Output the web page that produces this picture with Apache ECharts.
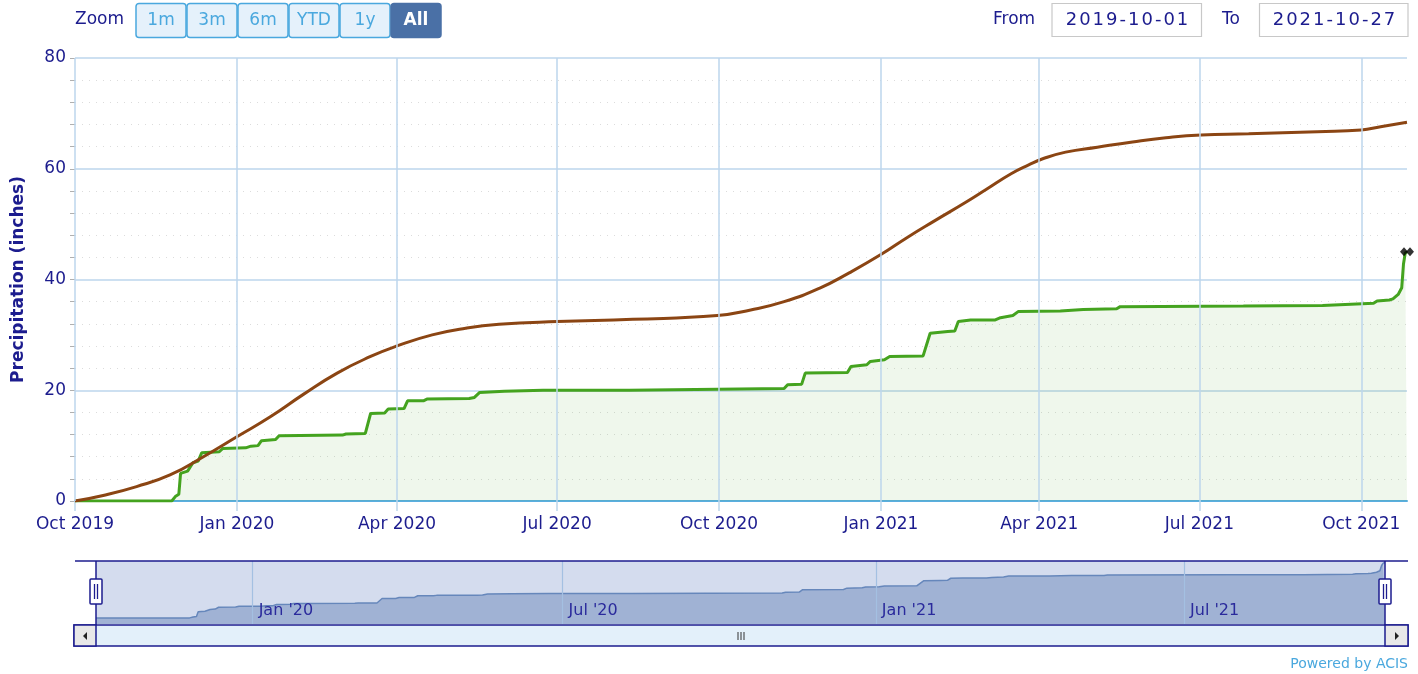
<!DOCTYPE html>
<html>
<head>
<meta charset="utf-8">
<script src="https://cdn.jsdelivr.net/npm/echarts@6/dist/echarts.min.js"></script>
<style>html,body{margin:0;padding:0;background:#fff}#c{width:1418px;height:674px}</style>
</head>
<body>
<div id="c"></div>
<script>
// ---- data ----
const startDate = '2019-10-01';
const endDate = '2021-10-27';
const xTickDates = ['2019-10-01','2020-01-01','2020-04-01','2020-07-01','2020-10-01','2021-01-01','2021-04-01','2021-07-01','2021-10-01'];
const navTickDates = ['2020-01-01','2020-07-01','2021-01-01','2021-07-01'];
const yTicks = [0, 20, 40, 60, 80];
const zoomButtons = ['1m','3m','6m','YTD','1y','All'];
const monthNames = ['Jan','Feb','Mar','Apr','May','Jun','Jul','Aug','Sep','Oct','Nov','Dec'];

// normal cumulative precipitation (brown)
const normalSeries = [
  ['2019-10-01',0.0],['2019-10-17',1.0],['2019-11-05',2.6],['2019-11-24',4.7],['2019-12-13',8.0],
  ['2020-01-01',11.6],['2020-01-20',15.2],['2020-02-08',19.3],['2020-02-27',23.1],['2020-03-17',26.1],
  ['2020-04-01',28.0],['2020-04-21',30.0],['2020-05-10',31.2],['2020-05-29',31.9],
  ['2020-07-01',32.4],['2020-08-13',32.8],['2020-09-30',33.5],['2020-10-19',34.5],['2020-11-07',36.0],
  ['2020-11-27',38.4],['2020-12-14',41.2],['2021-01-01',44.5],['2021-01-16',47.6],['2021-01-31',50.5],
  ['2021-02-18',53.9],['2021-03-02',56.3],['2021-03-16',59.1],['2021-03-26',60.7],['2021-04-03',61.8],
  ['2021-04-16',63.0],['2021-05-04',63.9],['2021-05-24',64.85],['2021-06-12',65.6],['2021-07-02',66.1],
  ['2021-07-29',66.3],['2021-09-06',66.7],['2021-10-01',67.0],['2021-10-12',67.6],['2021-10-27',68.4]
];

// observed cumulative precipitation (green)
const observedSeries = [
  ['2019-10-01',0.0],['2019-11-25',0.0],['2019-11-27',0.8],['2019-11-29',1.2],['2019-11-30',5.0],
  ['2019-12-04',5.4],['2019-12-07',6.9],['2019-12-10',7.2],['2019-12-12',8.7],['2019-12-22',8.9],
  ['2019-12-24',9.5],['2020-01-06',9.6],['2020-01-09',9.9],['2020-01-13',10.0],['2020-01-15',10.9],
  ['2020-01-23',11.1],['2020-01-25',11.8],['2020-03-01',11.9],['2020-03-03',12.1],['2020-03-14',12.2],
  ['2020-03-17',15.8],['2020-03-25',15.9],['2020-03-27',16.6],['2020-04-05',16.7],['2020-04-07',18.1],
  ['2020-04-16',18.1],['2020-04-18',18.4],['2020-05-12',18.5],['2020-05-15',18.7],['2020-05-18',19.6],
  ['2020-06-01',19.8],['2020-06-23',20.0],['2020-08-11',20.0],['2020-08-12',20.2],['2020-11-07',20.3],
  ['2020-11-09',21.0],['2020-11-17',21.1],['2020-11-19',23.1],['2020-12-13',23.2],['2020-12-15',24.3],
  ['2020-12-24',24.6],['2020-12-26',25.2],['2021-01-03',25.5],['2021-01-06',26.1],['2021-01-25',26.2],
  ['2021-01-29',30.3],['2021-02-08',30.6],['2021-02-12',30.7],['2021-02-14',32.4],['2021-02-21',32.7],
  ['2021-03-07',32.7],['2021-03-10',33.1],['2021-03-17',33.5],['2021-03-20',34.2],['2021-04-13',34.3],
  ['2021-04-14',34.45],['2021-04-26',34.6],['2021-05-15',34.7],['2021-05-17',35.1],['2021-07-26',35.2],
  ['2021-09-09',35.3],['2021-09-10',35.6],['2021-10-08',35.7],['2021-10-10',36.1],['2021-10-17',36.3],
  ['2021-10-19',36.5],['2021-10-22',37.3],['2021-10-24',38.5],['2021-10-25',42.8],['2021-10-26',44.8],
  ['2021-10-27',45.0]
];

// ---- helpers ----
function ts(s){ const p = s.split('-').map(Number); return new Date(p[0], p[1]-1, p[2]).getTime(); }
const toXY = arr => arr.map(([d, v]) => [ts(d), v]);
const NAVY = '#1c1c8e';
const GRID_BLUE = '#bcd6ec';
const FONT = 'DejaVu Sans';
const xTicks = xTickDates.map(ts);
const navTicks = navTickDates.map(ts);
const obsXY = toXY(observedSeries);
const normXY = toXY(normalSeries);
const lastObs = obsXY[obsXY.length - 1];

const measureCtx = document.createElement('canvas').getContext('2d');
function spacedText(str, cx, cy, font, color, spacing) {
  measureCtx.font = font;
  const widths = str.split('').map(ch => measureCtx.measureText(ch).width);
  const total = widths.reduce((a, b) => a + b, 0) + spacing * (str.length - 1);
  let x = cx - total / 2;
  const out = [];
  str.split('').forEach((ch, i) => {
    out.push({type:'text', x:x, y:cy, style:{text:ch, fill:color, font:font, textVerticalAlign:'middle'}, z:12});
    x += widths[i] + spacing;
  });
  return out;
}

// ---- UI chrome (graphic) ----
const graphics = [];
graphics.push({type:'text', x:75, y:20, style:{text:'Zoom', fill:NAVY, font:'17px "DejaVu Sans"', textVerticalAlign:'middle'}});
zoomButtons.forEach((b, i) => {
  const sel = b === 'All';
  const x = 136 + i * 51;
  graphics.push({type:'rect', shape:{x:x, y:3.5, width:50, height:34, r:3},
    style:{fill: sel ? '#4a70a6' : '#e5f1fb', stroke: sel ? '#4a70a6' : '#4aa8de', lineWidth:1.5}, z:10});
  graphics.push({type:'text', x:x+25, y:20.5, style:{text:b, fill: sel ? '#ffffff' : '#4aa8de',
    font:(sel ? 'bold ' : '') + '17px "DejaVu Sans"', textAlign:'center', textVerticalAlign:'middle'}, z:11});
});
graphics.push({type:'text', x:993, y:20, style:{text:'From', fill:NAVY, font:'17px "DejaVu Sans"', textVerticalAlign:'middle'}});
graphics.push({type:'rect', shape:{x:1052, y:3.5, width:149.5, height:33}, style:{fill:'#fff', stroke:'#c8c8c8', lineWidth:1.2}});
graphics.push(...spacedText(startDate, 1127, 20, '18px "DejaVu Sans"', NAVY, 2));
graphics.push({type:'text', x:1222, y:20, style:{text:'To', fill:NAVY, font:'17px "DejaVu Sans"', textVerticalAlign:'middle'}});
graphics.push({type:'rect', shape:{x:1259.5, y:3.5, width:148.5, height:33}, style:{fill:'#fff', stroke:'#c8c8c8', lineWidth:1.2}});
graphics.push(...spacedText(endDate, 1334, 20, '18px "DejaVu Sans"', NAVY, 2));

// navigator outline
graphics.push({type:'line', shape:{x1:75, y1:561, x2:1408, y2:561}, style:{stroke:NAVY, lineWidth:1.5}, z:20});
graphics.push({type:'line', shape:{x1:96, y1:561, x2:96, y2:625}, style:{stroke:NAVY, lineWidth:1.5}, z:20});
graphics.push({type:'line', shape:{x1:1385, y1:561, x2:1385, y2:625}, style:{stroke:NAVY, lineWidth:1.5}, z:20});
[90, 1379].forEach(hx => {
  graphics.push({type:'rect', shape:{x:hx, y:579, width:12, height:25, r:1}, style:{fill:'#fff', stroke:NAVY, lineWidth:1.5}, z:21});
  graphics.push({type:'line', shape:{x1:hx+4.5, y1:584, x2:hx+4.5, y2:599}, style:{stroke:NAVY, lineWidth:1.3}, z:22});
  graphics.push({type:'line', shape:{x1:hx+7.5, y1:584, x2:hx+7.5, y2:599}, style:{stroke:NAVY, lineWidth:1.3}, z:22});
});
// scrollbar
graphics.push({type:'rect', shape:{x:74, y:625, width:1334, height:21}, style:{fill:'#e3f0fa', stroke:NAVY, lineWidth:1.5}, z:20});
graphics.push({type:'rect', shape:{x:74, y:625, width:22, height:21}, style:{fill:'#e8e8e8', stroke:NAVY, lineWidth:1.5}, z:21});
graphics.push({type:'rect', shape:{x:1385, y:625, width:23, height:21}, style:{fill:'#e8e8e8', stroke:NAVY, lineWidth:1.5}, z:21});
graphics.push({type:'polygon', shape:{points:[[87,632],[87,640],[83,636]]}, style:{fill:'#222'}, z:22});
graphics.push({type:'polygon', shape:{points:[[1395,632],[1395,640],[1399,636]]}, style:{fill:'#222'}, z:22});
[738, 741, 744].forEach(gx => {
  graphics.push({type:'line', shape:{x1:gx, y1:632, x2:gx, y2:640}, style:{stroke:'#333', lineWidth:1}, z:22});
});
graphics.push({type:'text', x:1408, y:664, style:{text:'Powered by ACIS', fill:'#4aa8de', font:'14px "DejaVu Sans"', textAlign:'right', textVerticalAlign:'middle'}});

// ---- chart ----
const chart = echarts.init(document.getElementById('c'), null, {renderer:'canvas'});
chart.setOption({
  animation: false,
  backgroundColor: '#ffffff',
  textStyle: {fontFamily: FONT},
  grid: [
    {left:75, top:58, width:1332, height:443, containLabel:false},
    {left:96, top:561, width:1289, height:63, show:true, backgroundColor:'#d4dcee', borderWidth:0}
  ],
  xAxis: [
    {type:'value', gridIndex:0, min:ts(startDate), max:ts(endDate),
      axisLine:{show:true, onZero:false, lineStyle:{color:'#5aaee0', width:2}},
      axisTick:{show:true, customValues:xTicks, length:10, lineStyle:{color:GRID_BLUE, width:1.5}},
      axisLabel:{customValues:xTicks, color:NAVY, fontSize:17, margin:15, fontFamily:FONT, showMinLabel:true, showMaxLabel:true,
        formatter: v => { const d = new Date(v); return monthNames[d.getMonth()] + ' ' + d.getFullYear(); }},
      splitLine:{show:false}},
    {type:'value', gridIndex:1, min:ts(startDate), max:ts(endDate), z:10,
      axisLine:{show:false}, axisTick:{show:false}, splitLine:{show:false},
      axisLabel:{customValues:navTicks, inside:true, align:'left', margin:5, padding:[0,0,0,6], color:'#2a2a9c', fontSize:16, fontFamily:FONT,
        formatter: v => { const d = new Date(v); return monthNames[d.getMonth()] + " '" + String(d.getFullYear()).slice(2); }}}
  ],
  yAxis: [
    {type:'value', gridIndex:0, min:yTicks[0], max:yTicks[yTicks.length-1], interval:20,
      name:'Precipitation (inches)', nameLocation:'middle', nameGap:48, nameRotate:90,
      nameTextStyle:{color:NAVY, fontSize:17, fontWeight:'bold', fontFamily:FONT},
      axisLine:{show:false},
      axisTick:{show:true, length:5, lineStyle:{color:'#b0b0b0'}},
      minorTick:{show:true, splitNumber:5, length:5, lineStyle:{color:'#b0b0b0'}},
      axisLabel:{color:NAVY, fontSize:17, margin:9, fontFamily:FONT},
      splitLine:{show:true, lineStyle:{color:GRID_BLUE, width:1.5}},
      minorSplitLine:{show:true, lineStyle:{color:'#dcdcdc', type:[1,6], width:1.2}}},
    {type:'value', gridIndex:1, min:-5, max:46.5, show:false, splitLine:{show:false}}
  ],
  series: [
    {type:'line', xAxisIndex:0, yAxisIndex:0, data:[], z:1, silent:true,
      markLine:{silent:true, symbol:['none','none'], label:{show:false},
        lineStyle:{color:GRID_BLUE, width:1.5, type:'solid'},
        data: xTicks.map(t => ({xAxis:t}))}},
    {name:'Observed', type:'line', xAxisIndex:0, yAxisIndex:0, data:obsXY, showSymbol:false, symbol:'none', z:3,
      lineStyle:{color:'#44a31f', width:3}, itemStyle:{color:'#44a31f'},
      areaStyle:{color:'rgba(68,163,31,0.12)'}},
    {name:'Normal', type:'line', xAxisIndex:0, yAxisIndex:0, data:normXY, showSymbol:false, symbol:'none', z:4,
      smooth:0.5, lineStyle:{color:'#8b4513', width:3}, itemStyle:{color:'#8b4513'}},
    {type:'scatter', xAxisIndex:0, yAxisIndex:0, clip:false, z:6, silent:true,
      data:[{value:lastObs, symbolOffset:[-3,0]}, {value:lastObs, symbolOffset:[3,0]}],
      symbol:'diamond', symbolSize:[8,9], itemStyle:{color:'#000'}},
    {type:'line', xAxisIndex:1, yAxisIndex:1, data:[], z:1, silent:true,
      markLine:{silent:true, symbol:['none','none'], label:{show:false},
        lineStyle:{color:'#a4c0e2', width:1.2, type:'solid'},
        data: navTicks.map(t => ({xAxis:t}))}},
    {type:'line', xAxisIndex:1, yAxisIndex:1, data:obsXY, showSymbol:false, symbol:'none', z:3, silent:true,
      lineStyle:{color:'#6687bb', width:1.5}, areaStyle:{color:'#a0b2d4', opacity:1, origin:'start'}}
  ],
  graphic: {elements: graphics}
});
</script>
</body>
</html>
